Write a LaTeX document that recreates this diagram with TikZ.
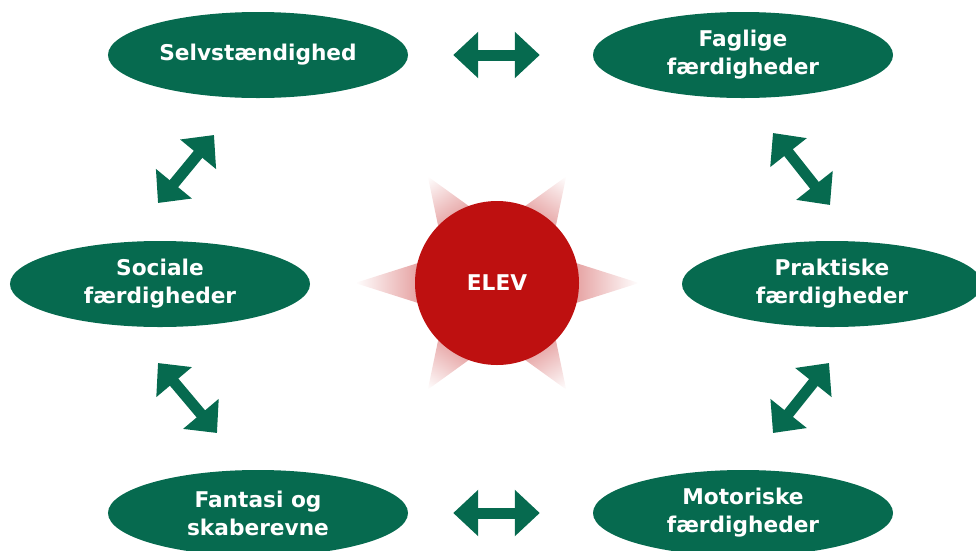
\documentclass[tikz,border=0pt]{standalone}
\usepackage{fontspec}
\setmainfont{DejaVu Sans}
\usetikzlibrary{shapes.geometric, arrows.meta, backgrounds}

\definecolor{elevgreen}{RGB}{6,106,79}
\definecolor{elevred}{RGB}{190,16,16}

\begin{document}
\begin{tikzpicture}[
        x=0.03cm, y=-0.03cm,
        % Ovaler med kompetencer
        kompetence/.style={
                ellipse,
                minimum width=9cm,
                minimum height=2.58cm,
                inner sep=0pt,
                fill=elevgreen,
                text=white,
                align=center,
                font=\bfseries\fontsize{18.5}{24}\selectfont
            },
        % Eleven i midten
        centrum/.style={
                circle,
                minimum size=4.92cm,
                inner sep=0pt,
                fill=elevred,
                text=white,
                font=\bfseries\fontsize{18.5}{24}\selectfont
            },
        % Dobbeltpile
        blokpil/.style={
                {Triangle[length=0.75cm,width=1.35cm]}-{Triangle[length=0.75cm,width=1.35cm]},
                line width=0.33cm,
                draw=elevgreen
            }
    ]
    \useasboundingbox (0,0) rectangle (976,550);

    % Midten
    \node[centrum] (elev) at (497,283) {ELEV};

    % Stråler bag cirklen
    \begin{scope}[on background layer]
        \foreach \a/\l in {0/142,57/127,123/127,180/142,237/127,303/127}{
            \begin{scope}[transform canvas={shift={(elev.center)},rotate=\a}]
                \shade[left color=elevred!50, right color=white]
                    (60,-26) -- (\l,0) -- (60,26) -- cycle;
            \end{scope}
        }
    \end{scope}

    % Kompetencer
    \node[kompetence] (selv) at (258,55) {Selvstændighed};
    \node[kompetence] (fag) at (743,55) {Faglige\\færdigheder};
    \node[kompetence] (soc) at (160,284) {Sociale\\færdigheder};
    \node[kompetence] (prak) at (832,284) {Praktiske\\færdigheder};
    \node[kompetence] (fant) at (258,513) {Fantasi og\\skaberevne};
    \node[kompetence] (mot) at (743,513) {Motoriske\\færdigheder};

    % Endepunkter for de skrå pile
    \coordinate (socselv1) at (158,203);
    \coordinate (socselv2) at (214,135);
    \coordinate (fagprak1) at (773,133);
    \coordinate (fagprak2) at (830,205);
    \coordinate (socfant1) at (158,363);
    \coordinate (socfant2) at (217,433);
    \coordinate (prakmot1) at (829,363);
    \coordinate (prakmot2) at (773,433);

    % Pile
    \draw[blokpil, shorten <=1.35cm, shorten >=1.59cm] (selv.east) -- (fag.west);
    \draw[blokpil, shorten <=1.35cm, shorten >=1.59cm] (fant.east) -- (mot.west);
    \draw[blokpil] (socselv1) -- (socselv2);
    \draw[blokpil] (fagprak1) -- (fagprak2);
    \draw[blokpil] (socfant1) -- (socfant2);
    \draw[blokpil] (prakmot1) -- (prakmot2);

\end{tikzpicture}
\end{document}
